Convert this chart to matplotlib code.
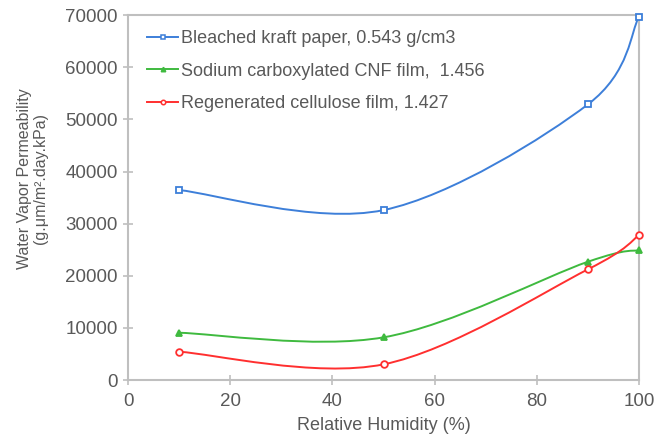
import numpy as np
import matplotlib.pyplot as plt
from matplotlib.path import Path
from matplotlib.patches import PathPatch
from matplotlib.lines import Line2D

plt.rcParams["font.family"] = ["Liberation Sans", "DejaVu Sans"]

# =============================================================================
# Data
# =============================================================================

relative_humidity = [10, 50, 90, 100]

kraft_paper = [36440, 32600, 52870, 69670]
cnf_film = [9070, 8190, 22690, 24930]
cellulose_film = [5430, 3010, 21230, 27750]

series_labels = [
    "Bleached kraft paper, 0.543 g/cm3",
    "Sodium carboxylated CNF film,  1.456",
    "Regenerated cellulose film, 1.427",
]

x_ticks = [0, 20, 40, 60, 80, 100]
y_ticks = [0, 10000, 20000, 30000, 40000, 50000, 60000, 70000]

text_color = "#595959"
axis_color = "#bfbfbf"


# --------------------------------------------------
# Smoothed line (Excel style Bezier through the points)
# --------------------------------------------------

def smooth_path(xs, ys):
    pts = np.column_stack([xs, ys]).astype(float)
    padded = np.vstack([pts[0], pts, pts[-1]])
    verts = [pts[0]]
    codes = [Path.MOVETO]
    for i in range(len(pts) - 1):
        p_prev, p0, p1, p_next = padded[i], padded[i + 1], padded[i + 2], padded[i + 3]
        c1 = p0 + (p1 - p_prev) / 6.0
        c2 = p1 - (p_next - p0) / 6.0
        verts += [c1, c2, p1]
        codes += [Path.CURVE4] * 3
    return Path(verts, codes)


# --------------------------------------------------
# Figure
# --------------------------------------------------

figure = plt.figure(figsize=(6.54, 4.45), dpi=100)
axis = figure.add_axes([0.196, 0.146, 0.781, 0.820])

styles = [
    dict(color="#3d7fd9", marker="s", mfc="white", ms=4.5),
    dict(color="#3fba3f", marker="^", mfc="#3fba3f", ms=4.5),
    dict(color="#ff2f2f", marker="o", mfc="white", ms=4.8),
]

handles = []
for values, label, style in zip([kraft_paper, cnf_film, cellulose_film], series_labels, styles):
    patch = PathPatch(
        smooth_path(relative_humidity, values),
        facecolor="none",
        edgecolor=style["color"],
        linewidth=1.4,
        zorder=2,
    )
    axis.add_patch(patch)
    axis.plot(
        relative_humidity,
        values,
        linestyle="none",
        marker=style["marker"],
        markersize=style["ms"],
        markerfacecolor=style["mfc"],
        markeredgecolor=style["color"],
        markeredgewidth=1.3,
        zorder=3,
        clip_on=False,
    )
    handles.append(
        Line2D(
            [], [],
            color=style["color"],
            linewidth=1.4,
            marker=style["marker"],
            markersize=3.2,
            markerfacecolor=style["mfc"],
            markeredgecolor=style["color"],
            markeredgewidth=1.1,
            label=label,
        )
    )

axis.set_xlim(0, 100)
axis.set_ylim(0, 70000)
axis.set_xticks(x_ticks)
axis.set_yticks(y_ticks)

for spine in axis.spines.values():
    spine.set_color(axis_color)
    spine.set_linewidth(1.5)

axis.tick_params(
    direction="inout",
    length=7,
    width=1.2,
    color=axis_color,
    labelcolor=text_color,
    labelsize=13.5,
    pad=6,
)
axis.tick_params(axis="y", pad=4)

axis.set_xlabel("Relative Humidity (%)", fontsize=13, color=text_color, labelpad=5)
axis.set_ylabel(
    "Water Vapor Permeability\n(g.\u03bcm/m\u00b2.day.kPa)",
    fontsize=11.5,
    color=text_color,
    linespacing=1.1,
)
axis.yaxis.set_label_coords(-0.157, 0.553)

legend = axis.legend(
    handles=handles,
    loc="upper left",
    bbox_to_anchor=(0.023, 0.978),
    frameon=False,
    fontsize=13,
    handlelength=1.7,
    handletextpad=0.2,
    labelspacing=0.85,
    borderaxespad=0.0,
)
for text in legend.get_texts():
    text.set_color(text_color)

plt.savefig("out.png", dpi=100)
